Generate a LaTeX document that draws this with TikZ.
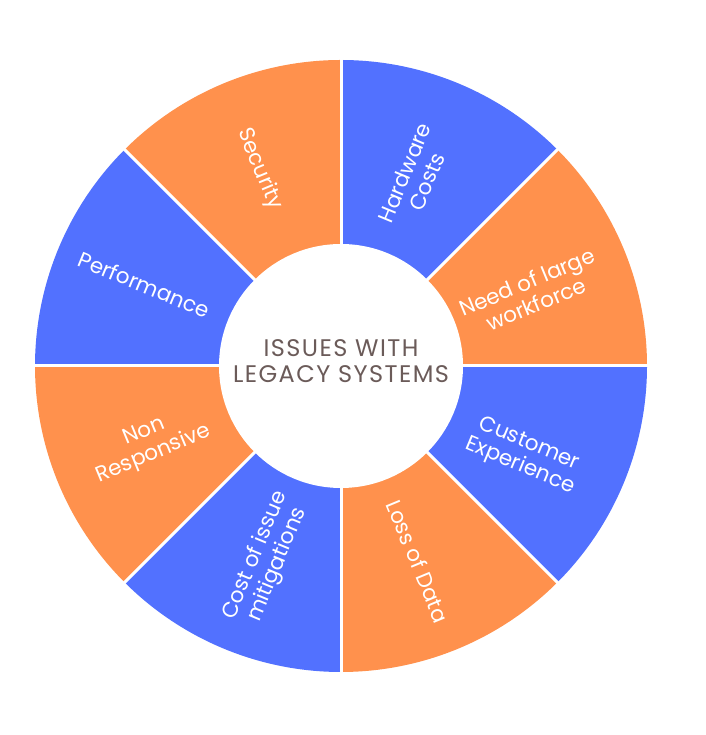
\documentclass[tikz,border=0pt]{standalone}
\usepackage{fontspec}
\usetikzlibrary{calc}
\setmainfont{Poppins}
\definecolor{segblue}{HTML}{5271FF}
\definecolor{segorange}{HTML}{FF914D}
\definecolor{ctext}{HTML}{6B5B59}
\begin{document}
\begin{tikzpicture}[x=1pt,y=1pt,
  seglabel/.style={text=white,font=\fontsize{21.5}{24}\selectfont,align=center,inner sep=0pt},
  sep/.style={draw=white,line width=3pt}]
\useasboundingbox (0,0) rectangle (705,735);
\coordinate (c) at (341,369);
\def\Ro{306}
\def\Ri{122}
\foreach \a/\col in {0/segorange,45/segblue,90/segorange,135/segblue,180/segorange,225/segblue,270/segorange,315/segblue}{
  \fill[\col] (c) -- ++(\a:\Ro) arc[start angle=\a,end angle=\a+45,radius=\Ro] -- cycle;
}
\foreach \a in {0,45,...,315}{
  \draw[sep] (c) -- ++(\a:\Ro+2);
}
\fill[white] (c) circle[radius=\Ri];
\node[seglabel,rotate=67.5] (hw) at ($(c)+(68.5:203)$) {Hardware\\Costs};
\node[seglabel,rotate=-67.5] (sec) at ($(c)+(112.5:213)$) {Security};
\node[seglabel,rotate=-22.5] (perf) at ($(c)+(157.5:213)$) {Performance};
\node[seglabel,rotate=22.5] (nrs) at ($(c)+(-158:207)$) {Non\\Responsive};
\node[seglabel,rotate=67.5] (cost) at ($(c)+(-111:208)$) {Cost of issue\\mitigations};
\node[seglabel,rotate=-67.5] (loss) at ($(c)+(-68.5:210)$) {Loss of Data};
\node[seglabel,rotate=-22.5] (cust) at ($(c)+(-26:204)$) {Customer\\Experience};
\node[seglabel,rotate=22.5] (need) at ($(c)+(21:204)$) {Need of large\\workforce};
\node[text=ctext,font=\fontsize{24}{26}\selectfont\addfontfeatures{LetterSpace=6},align=center,inner sep=0pt] (title) at ($(c)+(0,5)$) {ISSUES WITH\\LEGACY SYSTEMS};
\end{tikzpicture}
\end{document}
